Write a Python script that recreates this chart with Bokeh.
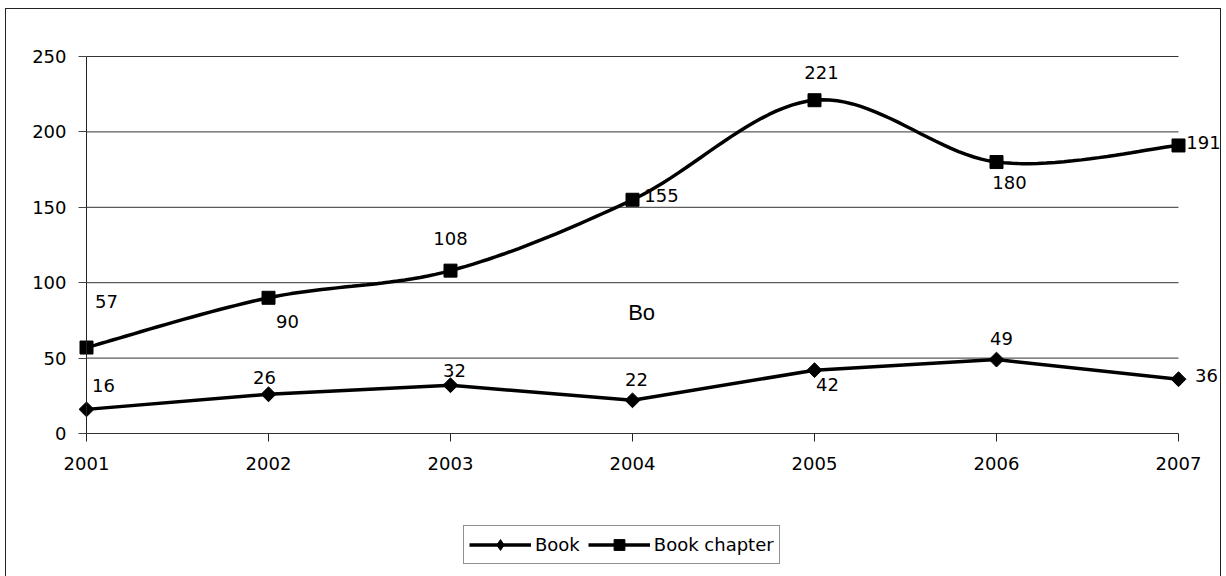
import numpy as np
from bokeh.plotting import figure
from bokeh.models import (ColumnDataSource, FixedTicker, Range1d, Legend, LegendItem,
                          Label)
from bokeh.core.properties import value
from bokeh.embed import file_html
from bokeh.resources import INLINE

# ---- data ----
years = [2001, 2002, 2003, 2004, 2005, 2006, 2007]
book = [16, 26, 32, 22, 42, 49, 36]
book_chapter = [57, 90, 108, 155, 221, 180, 191]
y_ticks = [0, 50, 100, 150, 200, 250]

# label offsets (screen px, y down) - styling only
book_dx = [17, -4, 4, 4, 13, 5, 28]
book_dy = [-24, -17, -15, -21, 14, -21, -4]
chap_dx = [20, 19, 0, 29, 7, 13, 25]
chap_dy = [-46, 24, -32, -4, -28, 20, -3]

FONT = "DejaVu Sans"
FS = "18px"

W, H = 1216, 572
LEFT, TOP = 80, 47           # pixel position of (2001, 250) inside the canvas
PX_X = 182.0                 # px per year
PX_Y = 377.0 / 250.0         # px per unit

x_range = Range1d(2001 - LEFT / PX_X, 2001 + (W - LEFT) / PX_X)
y_range = Range1d(250 - (H - TOP) / PX_Y, 250 + TOP / PX_Y)

p = figure(width=W, height=H, output_backend="svg", toolbar_location=None,
           x_range=x_range, y_range=y_range,
           min_border_left=0, min_border_right=0, min_border_top=0,
           min_border_bottom=0)
p.margin = (8, 0, 0, 5)
p.styles = {"border": "1px solid #222222"}
p.outline_line_color = None
p.background_fill_color = "white"
p.border_fill_color = "white"
p.xgrid.visible = False
p.ygrid.visible = False

# axes (drawn at fixed data positions inside the frame)
p.yaxis.fixed_location = 2001
p.yaxis.ticker = FixedTicker(ticks=y_ticks)
p.yaxis.bounds = (0, 250)
p.yaxis.axis_line_color = "#222222"
p.yaxis.major_tick_line_color = "#444444"
p.yaxis.major_tick_out = 8
p.yaxis.major_tick_in = 0
p.yaxis.minor_tick_line_color = None
p.yaxis.major_label_standoff = 12
p.yaxis.major_label_text_font = FONT
p.yaxis.major_label_text_font_size = FS
p.yaxis.major_label_text_color = "black"

p.xaxis.fixed_location = 0
p.xaxis.ticker = FixedTicker(ticks=years)
p.xaxis.axis_line_color = None
p.xaxis.major_tick_line_color = "#222222"
p.xaxis.major_tick_out = 8
p.xaxis.major_tick_in = 0
p.xaxis.minor_tick_line_color = None
p.xaxis.major_label_standoff = 15
p.xaxis.major_label_text_font = FONT
p.xaxis.major_label_text_font_size = FS
p.xaxis.major_label_text_color = "black"

# horizontal gridlines ending at last category
p.segment(x0=[years[0]] * len(y_ticks), x1=[years[-1]] * len(y_ticks),
          y0=y_ticks, y1=y_ticks, line_color="#333333", line_width=1)

# smoothed curve (Catmull-Rom -> Bezier, as spreadsheet "smoothed line")
def smooth(xs, ys, n=24):
    xs = np.asarray(xs, float)
    ys = np.asarray(ys, float)
    ox, oy = [xs[0]], [ys[0]]
    N = len(xs)
    for i in range(N - 1):
        p0 = np.array([xs[max(i - 1, 0)], ys[max(i - 1, 0)]])
        p1 = np.array([xs[i], ys[i]])
        p2 = np.array([xs[i + 1], ys[i + 1]])
        p3 = np.array([xs[min(i + 2, N - 1)], ys[min(i + 2, N - 1)]])
        c1 = p1 + (p2 - p0) / 6.0
        c2 = p2 - (p3 - p1) / 6.0
        for t in np.linspace(0, 1, n + 1)[1:]:
            b = ((1 - t) ** 3) * p1 + 3 * ((1 - t) ** 2) * t * c1 + 3 * (1 - t) * t * t * c2 + t ** 3 * p2
            ox.append(b[0]); oy.append(b[1])
    return ox, oy

sx, sy = smooth(years, book_chapter)
r_chap_line = p.line(sx, sy, line_color="black", line_width=3.5)
r_chap_mk = p.scatter(years, book_chapter, marker="square", size=13,
                      fill_color="black", line_color="black")

r_book_line = p.line(years, book, line_color="black", line_width=3.5)
r_book_mk = p.scatter(years, book, marker="square", angle=np.pi / 4, size=10.5,
                      fill_color="black", line_color="black")
# diamond used only for the legend swatch
r_book_leg = p.scatter(years, book, marker="diamond", size=15,
                       fill_color="black", line_color="black", visible=False)

# data labels
src_b = ColumnDataSource(dict(x=years, y=book, t=[str(v) for v in book],
                              dx=book_dx, dy=book_dy))
src_c = ColumnDataSource(dict(x=years, y=book_chapter, t=[str(v) for v in book_chapter],
                              dx=chap_dx, dy=chap_dy))
for src in (src_b, src_c):
    p.text(x="x", y="y", text="t", x_offset="dx", y_offset="dy", source=src,
           text_font=value(FONT), text_font_size=FS, text_color="black",
           text_align="center", text_baseline="middle")

# stray text in the original
p.add_layout(Label(x=2004.05, y=80, text="Bo", text_font="Liberation Sans",
                   text_font_size="22px", text_color="black",
                   text_align="center", text_baseline="middle"))

legend = Legend(items=[LegendItem(label="Book", renderers=[r_book_line, r_book_leg]),
                       LegendItem(label="Book chapter", renderers=[r_chap_line, r_chap_mk])],
                orientation="horizontal", location=(LEFT + 377, 17),
                label_text_font=FONT, label_text_font_size=FS, label_text_color="black",
                glyph_width=62, glyph_height=27, label_standoff=4, spacing=8,
                padding=5, margin=0, border_line_color="#222222", border_line_width=1,
                background_fill_color="white", background_fill_alpha=1.0)
p.add_layout(legend, "center")

open("out.html", "w").write(file_html(p, INLINE))
